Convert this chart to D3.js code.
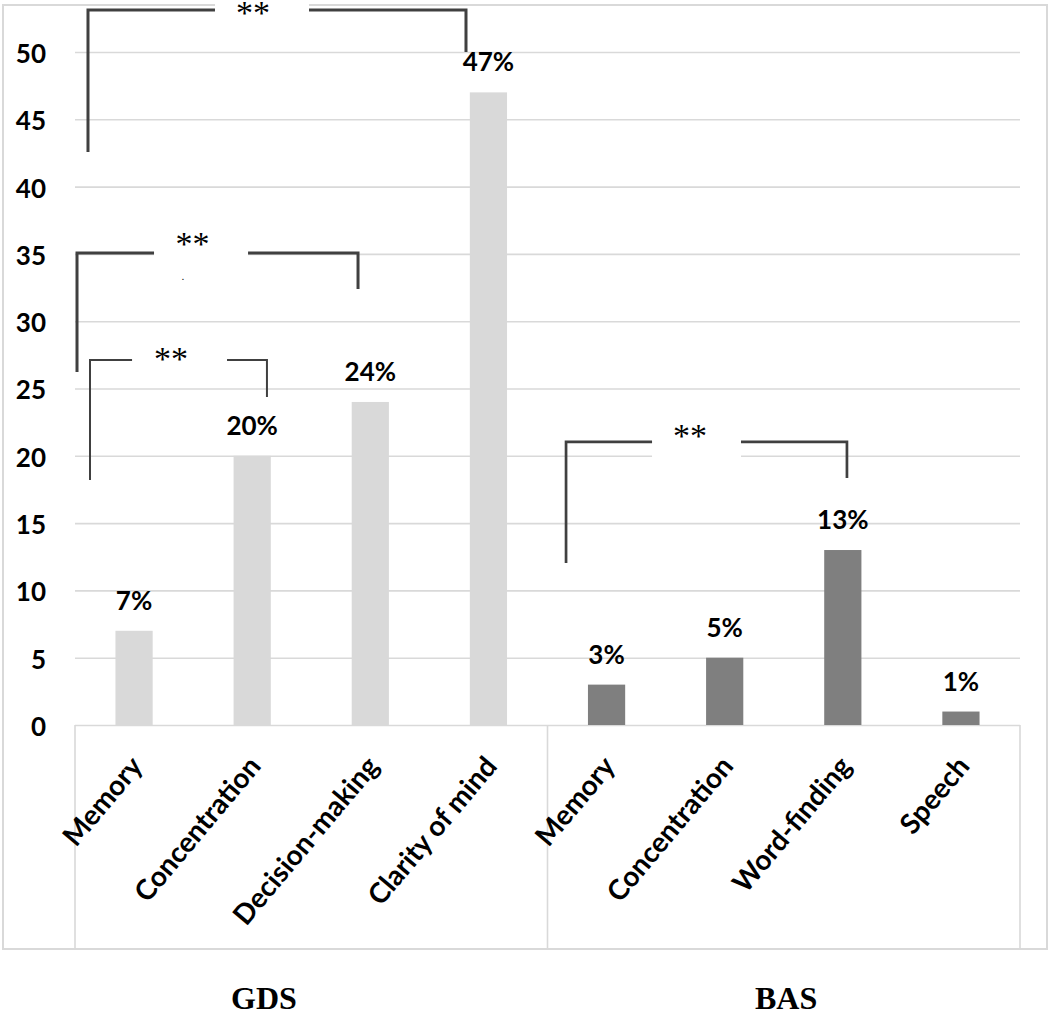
<!DOCTYPE html>
<html>
<head>
<meta charset="utf-8">
<script src="https://cdn.jsdelivr.net/npm/d3@7"></script>
<style>
  html, body { margin: 0; padding: 0; background: #ffffff; }
  svg { display: block; }
</style>
</head>
<body>
<svg id="chart" width="1050" height="1013"></svg>
<script>
// ---------- data ----------
const categories = ["Memory", "Concentration", "Decision-making", "Clarity of mind",
                    "Memory", "Concentration", "Word-finding", "Speech"];
const groupOf = ["GDS", "GDS", "GDS", "GDS", "BAS", "BAS", "BAS", "BAS"];
const values = [7, 20, 24, 47, 3, 5, 13, 1];
const valueLabels = ["7%", "20%", "24%", "47%", "3%", "5%", "13%", "1%"];
const yTicks = [0, 5, 10, 15, 20, 25, 30, 35, 40, 45, 50];
const groups = ["GDS", "BAS"];
const groupCenters = [1.6, 6.02];           // in category-slot units
// significance brackets (x in category-slot units, y in value units)
const brackets = [
  { x0: 0.110, x1: 3.310, gap0: 1.185, gap1: 1.981, top: 53.12, bot0: 42.57, bot1: 50.0,  sx: 1.507, sy: 53.27, w: 3 },
  { x0: 0.017, x1: 2.396, gap0: 0.669, gap1: 1.465, top: 35.07, bot0: 26.23, bot1: 32.39, sx: 0.995, sy: 36.11, w: 3 },
  { x0: 0.127, x1: 1.625, gap0: 0.483, gap1: 1.287, top: 27.12, bot0: 18.20, bot1: 24.37, sx: 0.813, sy: 27.56, w: 2 },
  { x0: 4.157, x1: 6.535, gap0: 4.885, gap1: 5.638, top: 21.03, bot0: 12.04, bot1: 18.35, sx: 5.206, sy: 21.81, w: 2.7 }
];
const starText = "**";
const strayDot = { x: 0.914, y: 33.21 };

// ---------- layout ----------
const svg = d3.select("#chart");
const plotL = 75, plotR = 1020, plotT = 52, plotB = 725, boxB = 949;

const slot = d3.scaleLinear().domain([0, categories.length]).range([plotL, plotR]);
const x = d3.scaleBand().domain(d3.range(categories.length)).range([plotL, plotR])
  .paddingInner(0.685).paddingOuter(0.3425);
const y = d3.scaleLinear().domain([0, 50]).range([plotB, plotT]);

const gridCol = "#d9d9d9";
const sans = "Lato, 'Open Sans', sans-serif";
const serif = "'Liberation Serif', 'Times New Roman', serif";

// outer frame
svg.append("rect").attr("x", 3).attr("y", 5).attr("width", 1044).attr("height", boxB - 5)
  .attr("fill", "none").attr("stroke", gridCol).attr("stroke-width", 2);

// gridlines
const grid = svg.append("g").attr("transform", `translate(${plotL},0)`)
  .call(d3.axisLeft(y).tickValues(yTicks).tickSize(-(plotR - plotL)).tickFormat(""));
grid.select(".domain").remove();
grid.selectAll("line").attr("stroke", gridCol).attr("stroke-width", 1.6);

// category box lines
const boxLines = [0, 4, 8];
svg.selectAll("line.box").data(boxLines).enter().append("line").attr("class", "box")
  .attr("x1", d => slot(d)).attr("x2", d => slot(d))
  .attr("y1", plotB).attr("y2", boxB)
  .attr("stroke", gridCol).attr("stroke-width", 1.6);

// y tick labels
const yAxis = svg.append("g").attr("transform", `translate(46,0)`)
  .call(d3.axisLeft(y).tickValues(yTicks).tickSize(0).tickPadding(0));
yAxis.select(".domain").remove();
yAxis.selectAll("text").attr("font-family", sans).attr("font-weight", 700)
  .attr("font-size", 26).attr("fill", "#000").attr("dy", "0.4em");

// bars
svg.selectAll("rect.bar").data(values).enter().append("rect").attr("class", "bar")
  .attr("x", (d, i) => x(i)).attr("width", x.bandwidth())
  .attr("y", d => y(d)).attr("height", d => y(0) - y(d))
  .attr("fill", (d, i) => groupOf[i] === "GDS" ? "#d9d9d9" : "#7f7f7f");

// value labels
svg.selectAll("text.val").data(values).enter().append("text").attr("class", "val")
  .attr("x", (d, i) => x(i) + x.bandwidth() / 2).attr("y", d => y(d) - 21)
  .attr("text-anchor", "middle").attr("font-family", sans).attr("font-weight", 700)
  .attr("font-size", 26).attr("fill", "#000").text((d, i) => valueLabels[i]);

// x category labels
const xAxis = svg.append("g").attr("transform", `translate(0,${plotB})`)
  .call(d3.axisBottom(x).tickSize(0).tickFormat(i => categories[i]));
xAxis.select(".domain").remove();
xAxis.selectAll("text")
  .attr("font-family", sans).attr("font-weight", 700).attr("font-size", 28).attr("fill", "#000")
  .attr("text-anchor", "end").attr("dy", null).attr("y", null)
  .attr("transform", "translate(10,42) rotate(-50)");

// group labels
svg.selectAll("text.grp").data(groups).enter().append("text").attr("class", "grp")
  .attr("x", (d, i) => slot(groupCenters[i])).attr("y", 1009)
  .attr("text-anchor", "middle").attr("font-family", serif)
  .attr("font-weight", 700).attr("font-size", 32).attr("fill", "#000").text(d => d);

// bracket white boxes
svg.selectAll("rect.gapbox").data(brackets).enter().append("rect").attr("class", "gapbox")
  .attr("x", d => slot(d.gap0)).attr("width", d => slot(d.gap1) - slot(d.gap0))
  .attr("y", d => y(d.top) - 18).attr("height", 34).attr("fill", "#fff");

// bracket lines
const bColor = "#404040";
brackets.forEach(b => {
  const segs = [
    [[slot(b.x0), y(b.bot0)], [slot(b.x0), y(b.top)], [slot(b.gap0), y(b.top)]],
    [[slot(b.gap1), y(b.top)], [slot(b.x1), y(b.top)], [slot(b.x1), y(b.bot1)]]
  ];
  segs.forEach(s => {
    svg.append("path").attr("d", d3.line()(s)).attr("fill", "none")
      .attr("stroke", bColor).attr("stroke-width", b.w).attr("stroke-linejoin", "miter");
  });
});

// stars
svg.selectAll("text.star").data(brackets).enter().append("text").attr("class", "star")
  .attr("x", d => slot(d.sx)).attr("y", d => y(d.sy) + 16)
  .attr("text-anchor", "middle").attr("font-family", serif)
  .attr("font-size", 34).attr("fill", "#000").text(starText);

// stray dot
svg.append("text").attr("x", slot(strayDot.x)).attr("y", y(strayDot.y) + 2)
  .attr("text-anchor", "middle").attr("font-family", sans).attr("font-size", 10)
  .attr("fill", "#000").text(".");
</script>
</body>
</html>
